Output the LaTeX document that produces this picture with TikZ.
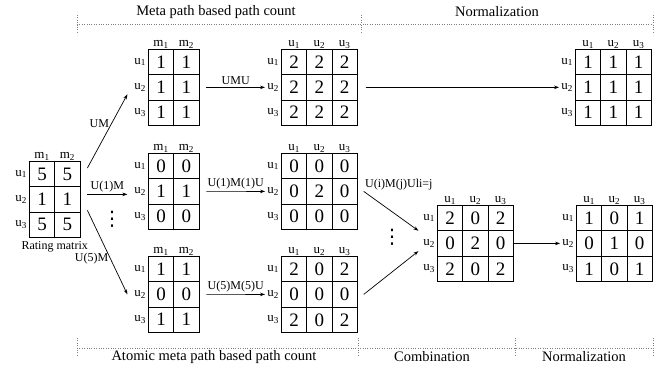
\documentclass[tikz,border=0pt]{standalone}
\usepackage{fontspec}
\setmainfont{Liberation Serif}
\newfontfamily\symf{DejaVu Sans}
\usetikzlibrary{arrows.meta,matrix,calc}
\newcommand\lbls[3]{%
  \foreach \c in {1,...,#2} {\node[hdr] (#1h\c) at ([yshift=3pt]#1-1-\c.north) {#3\textsubscript{\c}};}
  \foreach \r in {1,2,3} {\node[rowlab] (#1r\r) at ([xshift=-1pt]#1-\r-1.west) {u\textsubscript{\r}};}
}
\begin{document}
\begin{tikzpicture}[x=1pt,y=-1pt,line width=0.8pt,
  cellmat/.style={matrix of nodes, anchor=north west, inner sep=0pt, outer sep=0pt,
     column sep=-\pgflinewidth, row sep=-\pgflinewidth,
     nodes={draw, minimum width=25.3pt, minimum height=25.3pt, inner sep=0pt,
            font=\fontsize{19}{19}\selectfont}},
  hdr/.style={anchor=base, font=\fontsize{13}{13}\selectfont, inner sep=0pt},
  rowlab/.style={anchor=east, font=\fontsize{13}{13}\selectfont, inner sep=1pt},
  arr/.style={-{Stealth[length=5pt,width=3.5pt]}, line width=0.7pt},
  alab/.style={font=\fontsize{12}{12}\selectfont, inner sep=2pt},
  title/.style={font=\fontsize{14.5}{14.5}\selectfont, inner sep=0pt},
  divider/.style={draw=gray, line width=0.6pt, dash pattern=on 0.8pt off 1.6pt},
  dotsn/.style={font=\symf\fontsize{20}{20}\selectfont, inner sep=0pt}
]
\useasboundingbox (0,0) rectangle (659,365);

% section dividers
\draw[divider] (77,24) -- (653,24);
\draw[divider] (77,15) -- (77,33);
\draw[divider] (361,15) -- (361,33);
\draw[divider] (653,15) -- (653,33);
\draw[divider] (77,348) -- (653,348);
\draw[divider] (77,338) -- (77,357);
\draw[divider] (358,338) -- (358,357);
\draw[divider] (515,338) -- (515,357);
\draw[divider] (653,338) -- (653,357);

\node[title] (t1) at (216,12) {Meta path based path count};
\node[title] (t2) at (497,12) {Normalization};
\node[title] (t3) at (214,357) {Atomic meta path based path count};
\node[title] (t4) at (432,357) {Combination};
\node[title] (t5) at (584,357) {Normalization};

% matrices
\matrix (R) [cellmat] at (29,161) {5 & 5\\ 1 & 1\\ 5 & 5\\};
\matrix (A1) [cellmat] at (148,49) {1 & 1\\ 1 & 1\\ 1 & 1\\};
\matrix (B1) [cellmat] at (281,49) {2 & 2 & 2\\ 2 & 2 & 2\\ 2 & 2 & 2\\};
\matrix (N1) [cellmat] at (575,49) {1 & 1 & 1\\ 1 & 1 & 1\\ 1 & 1 & 1\\};
\matrix (A2) [cellmat] at (148,153) {0 & 0\\ 1 & 1\\ 0 & 0\\};
\matrix (B2) [cellmat] at (281,153) {0 & 0 & 0\\ 0 & 2 & 0\\ 0 & 0 & 0\\};
\matrix (A3) [cellmat] at (148,256) {1 & 1\\ 0 & 0\\ 1 & 1\\};
\matrix (B3) [cellmat] at (281,256) {2 & 0 & 2\\ 0 & 0 & 0\\ 2 & 0 & 2\\};
\matrix (C) [cellmat] at (437,205) {2 & 0 & 2\\ 0 & 2 & 0\\ 2 & 0 & 2\\};
\matrix (N2) [cellmat] at (576,205) {1 & 0 & 1\\ 0 & 1 & 0\\ 1 & 0 & 1\\};

\lbls{R}{2}{m}
\lbls{A1}{2}{m}
\lbls{A2}{2}{m}
\lbls{A3}{2}{m}
\lbls{B1}{3}{u}
\lbls{B2}{3}{u}
\lbls{B3}{3}{u}
\lbls{N1}{3}{u}
\lbls{C}{3}{u}
\lbls{N2}{3}{u}

\node[font=\fontsize{12}{12}\selectfont, inner sep=0pt] (rlab) at ([yshift=-9pt]R.south) {Rating matrix};

\node[dotsn] (d1) at (112,219) {⋮};
\node[dotsn] (d2) at (392,237) {⋮};

% connectors
\draw[arr] ([xshift=7pt,yshift=-7pt]R.north east) -- ([xshift=-21pt,yshift=-7pt]A1-2-1.west)
   node[alab, pos=0.6, left] {UM};
\draw[arr] ([xshift=7pt,yshift=5pt]R.east) -- ([xshift=-21pt,yshift=-3pt]A2-2-1.west)
   node[alab, midway, above] {U(1)M};
\draw[arr] ([xshift=7pt,yshift=-11pt]R.east) -- ([xshift=-21pt]A3-2-1.west)
   node[alab, pos=0.58, left] {U(5)M};

\draw[arr] ([xshift=7pt]A1.east) -- ([xshift=-1pt]B1r2.west) node[alab, midway, above] {UMU};
\draw[arr] ([xshift=7pt]A2.east) -- ([xshift=-1pt]B2r2.west) node[alab, midway, above] {U(1)M(1)U};
\draw[arr] ([xshift=7pt]A3.east) -- ([xshift=-1pt]B3r2.west) node[alab, midway, above] {U(5)M(5)U};

\draw[arr] ([xshift=8pt]B1.east) -- ([xshift=-1pt]N1r2.west);

\draw[arr] ([xshift=6pt]B2.east) coordinate (bs) -- ([xshift=-19pt]C-1-1.south west);
\node[alab, anchor=south west, inner sep=1pt] (clab) at (bs) {U(i)M(j)Uli=j};
\draw[arr] ([xshift=6pt]B3.east) -- ([xshift=-19pt,yshift=5pt]C-2-1.south west);

\draw[arr] (C.east) -- ([xshift=-1pt]N2r2.west);
\end{tikzpicture}
\end{document}
